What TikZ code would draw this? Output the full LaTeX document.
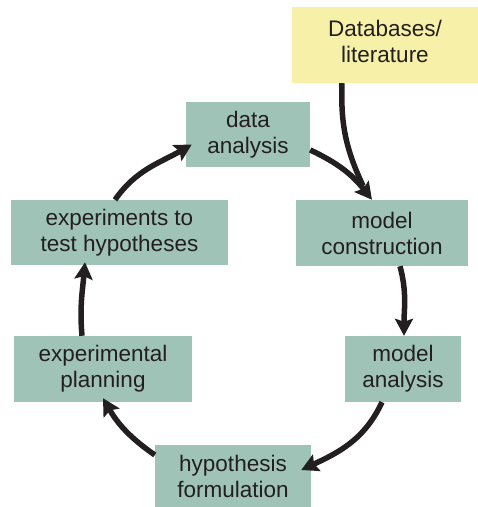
\documentclass[tikz,border=0pt]{standalone}
\usepackage{fontspec}
\setmainfont{Liberation Sans}
\usepackage{xcolor}
\usetikzlibrary{arrows.meta}
\definecolor{tealbox}{HTML}{A0C3B8}
\definecolor{yellowbox}{HTML}{F6F0A8}
\definecolor{inkdark}{HTML}{231F20}

\begin{document}
\begin{tikzpicture}[
  x=1pt, y=1pt,
  stage/.style={
    fill=tealbox, inner sep=0pt, align=center,
    text=inkdark, font=\fontsize{22.5}{26}\selectfont
  },
  source/.style={
    fill=yellowbox, inner sep=0pt, align=center,
    text=inkdark, font=\fontsize{22.5}{26}\selectfont
  },
  arr/.style={-{Stealth[length=17pt, width=18pt, inset=3pt]}, line width=5.5pt, inkdark},
  feed/.style={line width=5.5pt, inkdark},
]
\useasboundingbox (0,0) rectangle (478,507);

%% ---- Boxes ----
\node[source, minimum width=186, minimum height=76] (db) at (385,462) {};
\node[text=inkdark, font=\fontsize{22.5}{26}\selectfont, align=center] (dbtext) at ([yshift=4pt]db.center) {Databases/\\literature};
\node[stage, minimum width=124, minimum height=65] (data) at (248,372.5) {data\\analysis};
\node[stage, minimum width=217, minimum height=65] (exptest) at (119.5,274.5) {experiments to\\test hypotheses};
\node[stage, minimum width=172, minimum height=66] (mcons) at (382,274) {model\\construction};
\node[stage, minimum width=178, minimum height=66] (eplan) at (103,138) {experimental\\planning};
\node[stage, minimum width=116, minimum height=66] (manal) at (403,138) {model\\analysis};
\node[stage, minimum width=156, minimum height=62] (hypo) at (233,31) {hypothesis\\formulation};

%% ---- Cycle arrows ----
\draw[feed] ([xshift=-43pt]db.south) to[out=-92, in=115] ([xshift=-19pt,yshift=14pt]mcons.north);
\draw[arr] ([yshift=-15.5pt]data.east) to[out=-25, in=128] ([xshift=-10pt]mcons.north);
\draw[arr] ([xshift=18pt]mcons.south) to[out=-75, in=90] ([xshift=1pt]manal.north);
\draw[arr] ([xshift=-21pt]manal.south) to[out=-115, in=25] ([xshift=-10pt,yshift=6pt]hypo.east);
\draw[arr] ([yshift=21pt]hypo.west) to[out=145, in=-60] ([yshift=4pt]eplan.south);
\draw[arr] ([xshift=-21pt]eplan.north) to[out=95, in=-95] ([xshift=-34.5pt,yshift=3pt]exptest.south);
\draw[arr] ([xshift=-4.5pt]exptest.north) to[out=55, in=-150] ([xshift=6pt,yshift=-10pt]data.west);

\end{tikzpicture}
\end{document}
